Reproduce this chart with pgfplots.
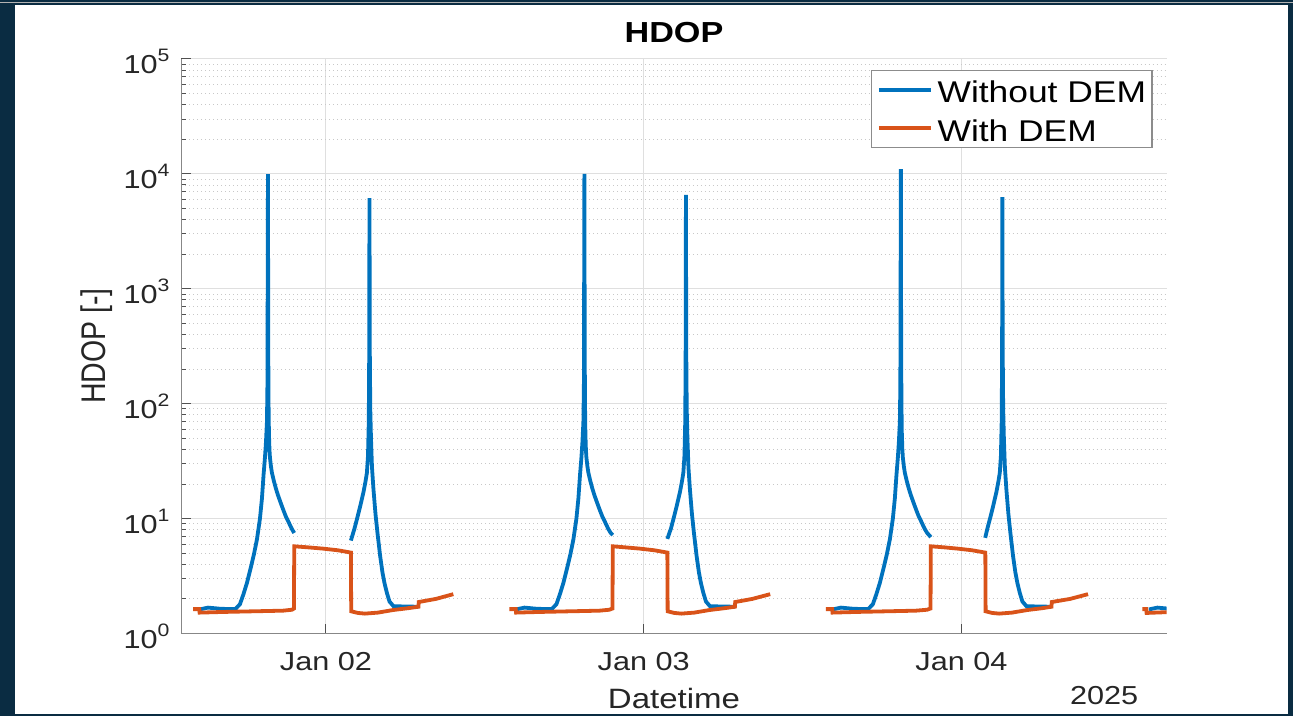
\documentclass[border=0pt]{standalone}
\usepackage{pgfplots}
\pgfplotsset{compat=1.18}
\usepackage{fontspec}
\setmainfont{Liberation Sans}[FakeStretch=1.18]
\newfontfamily\ylabfont{Liberation Sans}
\definecolor{mblue}{RGB}{0,114,189}
\definecolor{morange}{RGB}{217,83,25}
\definecolor{gridmaj}{RGB}{223,223,223}
\definecolor{gridmin}{RGB}{200,200,200}
\definecolor{axgray}{RGB}{135,135,135}
\definecolor{tickgray}{RGB}{80,80,80}
\definecolor{ticktext}{RGB}{38,38,38}
\definecolor{bgnavy}{RGB}{10,44,66}
\definecolor{leggray}{RGB}{140,140,140}
\newcommand\tp[1]{10\raisebox{12pt}{\fontsize{18}{18}\selectfont #1}}
\begin{document}
\begin{tikzpicture}
\fill[bgnavy] (0pt,0pt) rectangle (1293pt,717pt);
\fill[white] (15pt,2pt) rectangle (1288pt,712pt);
\draw[gray!60, line width=1pt] (0pt,714.5pt) -- (1293pt,714.5pt);
\begin{axis}[
  at={(181pt,83pt)}, anchor=south west,
  scale only axis, width=986pt, height=575pt,
  ymode=log, ymin=1, ymax=100000,
  xmin=13.08, xmax=87.49,
  axis x line*=bottom, axis y line*=left,
  axis line style={-, draw=axgray, line width=1.3pt},
  tick align=inside,
  major tick length=10pt, minor tick length=5pt,
  tick style={tickgray, line width=1pt},
  xtick={24,48,72}, xticklabels={Jan 02,Jan 03,Jan 04},
  ytick={1,10,100,1000,10000,100000},
  yticklabels={\tp{0},\tp{1},\tp{2},\tp{3},\tp{4},\tp{5}},
  tick label style={font=\fontsize{26}{31}\selectfont, text=ticktext, inner sep=0pt},
  xticklabel style={anchor=base, yshift=-37pt},
  yticklabel style={anchor=base east, xshift=-11.7pt, yshift=-15pt},
  xmajorgrids, ymajorgrids, yminorgrids,
  major grid style={gridmaj, line width=1pt},
  minor grid style={gridmin, line width=0.9pt, dash pattern=on 1pt off 3pt},
  title={HDOP},
  title style={at={(0.5,1)}, anchor=base, yshift=10.5pt, inner sep=0pt, font=\bfseries\fontsize{29}{34}\selectfont},
  xlabel={Datetime},
  xlabel style={at={(axis description cs:0.5,0)}, anchor=base, yshift=-75.3pt, inner sep=0pt, font=\fontsize{28}{34}\selectfont, text=ticktext},
  ylabel={\scalebox{1}[1.2]{HDOP [-]}},
  ylabel style={at={(axis description cs:0,0.5)}, anchor=base, yshift=76pt, inner sep=0pt, font=\ylabfont\fontsize{28.5}{34}\selectfont, text=ticktext},
  legend style={at={(0.9858,0.9809)}, anchor=north east, draw=leggray, line width=1.2pt, fill=white,
    font=\fontsize{30}{35}\selectfont, inner xsep=6pt, inner ysep=6.5pt,
    nodes={inner sep=0pt, text=black, text height=26pt, text depth=0pt}, row sep=12.3pt, column sep=5pt, cells={anchor=west}},
  legend image code/.code={\draw[#1, line width=3.6pt] (0pt,0pt) -- (52pt,0pt);},
  unbounded coords=jump,
]
\addplot[mblue, line width=3.8pt] table {
x y
14.458 1.62
15.092 1.68
16.073 1.64
17.152 1.63
17.507 1.8
17.771 2.2
18.035 2.76
18.337 3.8
18.563 4.9
18.790 6.6
19.016 10
19.167 15
19.288 24
19.394 34
19.469 46
19.545 70
19.582 150
19.620 9940
19.643 300
19.665 100
19.695 55
19.733 40
19.771 34
19.846 28.5
19.922 25
20.073 21.1
20.224 18.2
20.375 16.0
20.526 14.3
20.677 12.8
20.828 11.5
20.978 10.4
21.129 9.6
21.280 8.8
21.431 8.1
21.605 7.5
21.700 nan
25.884 6.44
26.156 8.2
26.382 10.3
26.586 12.8
26.835 17
26.986 21
27.092 25
27.175 35
27.235 70
27.265 250
27.288 6150
27.311 300
27.348 90
27.401 50
27.477 28
27.590 17.9
27.741 11
27.892 7.5
28.096 4.7
28.269 3.4
28.420 2.75
28.601 2.26
28.798 1.9
29.100 1.73
29.809 1.72
30.986 1.71
31.000 nan
38.358 1.62
38.992 1.68
39.973 1.64
41.052 1.63
41.407 1.8
41.671 2.2
41.935 2.76
42.237 3.8
42.463 4.9
42.690 6.6
42.916 10
43.067 15
43.188 24
43.294 34
43.369 46
43.445 70
43.482 150
43.520 10000
43.543 300
43.565 100
43.595 55
43.633 40
43.671 34
43.746 28.5
43.822 25
43.973 21.1
44.124 18.2
44.275 16.0
44.426 14.3
44.577 12.8
44.728 11.5
44.878 10.4
45.029 9.6
45.180 8.8
45.331 8.1
45.505 7.5
45.664 7.2
45.700 nan
49.784 6.66
50.056 8.2
50.282 10.3
50.486 12.8
50.735 17
50.886 21
50.992 25
51.075 35
51.135 70
51.165 250
51.188 6560
51.211 300
51.248 90
51.301 50
51.377 28
51.490 17.9
51.641 11
51.792 7.5
51.996 4.7
52.169 3.4
52.320 2.75
52.501 2.26
52.698 1.9
53.000 1.73
53.709 1.72
54.886 1.71
54.900 nan
62.258 1.62
62.892 1.68
63.873 1.64
64.952 1.63
65.307 1.8
65.571 2.2
65.835 2.76
66.137 3.8
66.363 4.9
66.590 6.6
66.816 10
66.967 15
67.088 24
67.194 34
67.269 46
67.345 70
67.382 150
67.420 11000
67.443 300
67.465 100
67.495 55
67.533 40
67.571 34
67.646 28.5
67.722 25
67.873 21.1
68.024 18.2
68.175 16.0
68.326 14.3
68.477 12.8
68.628 11.5
68.778 10.4
68.929 9.6
69.080 8.8
69.231 8.1
69.405 7.5
69.685 6.9
69.700 nan
73.790 6.8
73.956 8.2
74.182 10.3
74.386 12.8
74.635 17
74.786 21
74.892 25
74.975 35
75.035 70
75.065 250
75.088 6270
75.111 300
75.148 90
75.201 50
75.277 28
75.390 17.9
75.541 11
75.692 7.5
75.896 4.7
76.069 3.4
76.220 2.75
76.401 2.26
76.598 1.9
76.900 1.73
77.609 1.72
78.794 1.71
78.800 nan
86.158 1.62
86.792 1.68
87.773 1.64
};
\addlegendentry{Without DEM}
\addplot[morange, line width=3.8pt] table {
x y
13.960 1.63
14.435 1.63
14.458 1.52
16.224 1.54
18.488 1.56
20.752 1.58
21.432 1.61
21.583 1.65
21.605 5.74
22.639 5.62
23.771 5.48
24.903 5.3
25.885 5.06
25.907 1.56
26.413 1.51
26.941 1.49
27.922 1.52
29.054 1.6
30.186 1.66
30.986 1.71
31.009 1.88
32.300 2.0
33.620 2.2
33.700 nan
37.860 1.63
38.335 1.63
38.358 1.52
40.124 1.54
42.388 1.56
44.652 1.58
45.400 1.61
45.640 1.65
45.664 5.74
46.600 5.62
47.700 5.48
48.800 5.3
49.785 5.06
49.807 1.56
50.313 1.51
50.841 1.49
51.822 1.52
52.954 1.6
54.086 1.66
54.886 1.71
54.909 1.88
56.200 2.0
57.550 2.2
57.600 nan
61.760 1.63
62.235 1.63
62.258 1.52
64.024 1.54
66.288 1.56
68.552 1.58
69.400 1.61
69.660 1.65
69.685 5.74
70.700 5.62
71.700 5.48
72.800 5.3
73.800 5.06
73.822 1.56
74.313 1.51
74.841 1.49
75.822 1.52
76.954 1.6
78.086 1.66
78.794 1.71
78.817 1.88
80.200 2.0
81.556 2.2
81.600 nan
85.660 1.63
85.960 1.63
85.980 1.51
87.900 1.54
};
\addlegendentry{With DEM}
\end{axis}
\node[anchor=base, inner sep=0pt, font=\fontsize{26}{31}\selectfont, text=ticktext] at (1104.5pt,12pt) {2025};
\end{tikzpicture}
\end{document}
